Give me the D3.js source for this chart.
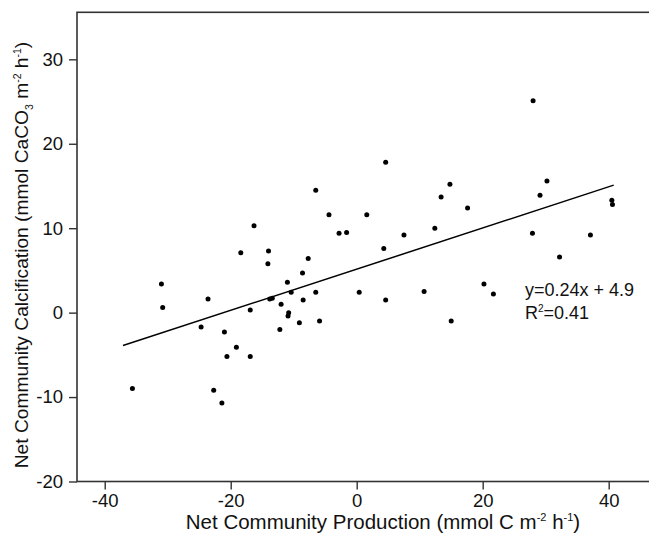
<!DOCTYPE html>
<html>
<head>
<meta charset="utf-8">
<script src="https://cdn.jsdelivr.net/npm/d3@7"></script>
<style>
  html, body { margin: 0; padding: 0; background: #fff; }
  svg { display: block; font-family: "Liberation Sans", Arial, Helvetica, sans-serif; }
</style>
</head>
<body>
<svg id="chart" width="649" height="535"></svg>
<script>
// ---- data ----
const ncp = [28.0, 4.6, -6.5, 14.8, 30.2, 13.4, 29.1, 40.5, 40.6, -4.4,
             1.6, 17.6, -2.8, -1.6, 7.5, 12.4, 27.9, 37.1, 4.3, 32.2,
             -7.7, -8.6, 20.2, 21.7, -8.5, -6.5, 0.4, 4.6, 10.7, -9.1,
             -5.9, 15.0, -16.3, -18.4, -14.0, -14.1, -31.0, -30.8, -23.6, -11.0,
             -10.4, -13.8, -13.4, -12.0, -16.9, -10.8, -10.9, -24.7, -21.0, -12.2,
             -19.1, -20.6, -16.9, -35.6, -22.7, -21.4];
const ncc = [25.1, 17.8, 14.5, 15.2, 15.6, 13.7, 13.9, 13.3, 12.8, 11.6,
             11.6, 12.4, 9.4, 9.5, 9.2, 10.0, 9.4, 9.2, 7.6, 6.6,
             6.4, 4.7, 3.4, 2.2, 1.5, 2.4, 2.4, 1.5, 2.5, -1.2,
             -1.0, -1.0, 10.3, 7.1, 7.3, 5.8, 3.4, 0.6, 1.6, 3.6,
             2.4, 1.6, 1.7, 1.0, 0.3, 0.0, -0.4, -1.7, -2.3, -2.0,
             -4.1, -5.2, -5.2, -9.0, -9.2, -10.7];
const fitX = [-37.1, 40.8];
const fitY = [-3.9, 15.1];
const xTicks = [-40, -20, 0, 20, 40];
const yTicks = [-20, -10, 0, 10, 20, 30];
const eqText = "y=0.24x + 4.9";
const r2Text = "=0.41";

// ---- layout ----
const svg = d3.select("#chart");
const pLeft = 77, pRight = 649, pTop = 12.3, pBottom = 481.5;

const x = d3.scaleLinear().domain([-44.4, 46.4]).range([pLeft, pRight]);
const y = d3.scaleLinear().domain([-20, 35.57]).range([pBottom, pTop]);

const axisColor = "#333";
const fontSize = 18.5;
const fmt = d => String(d);

// frame
svg.append("rect")
  .attr("x", pLeft).attr("y", pTop)
  .attr("width", pRight - pLeft + 20).attr("height", pBottom - pTop)
  .attr("fill", "none").attr("stroke", axisColor).attr("stroke-width", 1.6);

// x axis
const gx = svg.append("g").attr("transform", `translate(0,${pBottom})`)
  .call(d3.axisBottom(x).tickValues(xTicks).tickSize(8).tickSizeOuter(0).tickPadding(4)
    .tickFormat(fmt));
gx.select(".domain").remove();
gx.selectAll("line").attr("stroke", axisColor).attr("stroke-width", 1.4);
gx.selectAll("text").attr("fill", "#111").style("font-size", fontSize + "px")
  .style("font-family", "'Liberation Sans', Arial, sans-serif");

// y axis
const gy = svg.append("g").attr("transform", `translate(${pLeft},0)`)
  .call(d3.axisLeft(y).tickValues(yTicks).tickSize(8).tickSizeOuter(0).tickPadding(6)
    .tickFormat(fmt));
gy.select(".domain").remove();
gy.selectAll("line").attr("stroke", axisColor).attr("stroke-width", 1.4);
gy.selectAll("text").attr("fill", "#111").style("font-size", fontSize + "px")
  .style("font-family", "'Liberation Sans', Arial, sans-serif");

// regression line
svg.append("line")
  .attr("x1", x(fitX[0])).attr("y1", y(fitY[0]))
  .attr("x2", x(fitX[1])).attr("y2", y(fitY[1]))
  .attr("stroke", "#000").attr("stroke-width", 1.5);

// points
svg.append("g").selectAll("circle")
  .data(ncp.map((v, i) => [v, ncc[i]]))
  .join("circle")
  .attr("cx", d => x(d[0])).attr("cy", d => y(d[1]))
  .attr("r", 2.5).attr("fill", "#000");

// annotation
svg.append("text").attr("x", 525).attr("y", 296)
  .style("font-size", "18px").attr("fill", "#111").text(eqText);
const r2 = svg.append("text").attr("x", 525).attr("y", 318.5)
  .style("font-size", "18px").attr("fill", "#111");
r2.append("tspan").text("R");
r2.append("tspan").attr("dy", -7).style("font-size", "10px").text("2");
r2.append("tspan").attr("dy", 7).text(r2Text);

// x title
const xt = svg.append("text").attr("x", 383).attr("y", 529)
  .attr("text-anchor", "middle").style("font-size", "20.5px").attr("fill", "#111");
xt.append("tspan").text("Net Community Production (mmol C m");
xt.append("tspan").attr("dy", -8).style("font-size", "11px").text("-2");
xt.append("tspan").attr("dy", 8).text(" h");
xt.append("tspan").attr("dy", -8).style("font-size", "11px").text("-1");
xt.append("tspan").attr("dy", 8).text(")");

// y title
const yt = svg.append("text")
  .attr("transform", `translate(28,255) rotate(-90)`)
  .attr("text-anchor", "middle").style("font-size", "19.2px").attr("fill", "#111");
yt.append("tspan").text("Net Community Calcification (mmol CaCO");
yt.append("tspan").attr("dy", 5).style("font-size", "10.5px").text("3");
yt.append("tspan").attr("dy", -5).text(" m");
yt.append("tspan").attr("dy", -7).style("font-size", "10.5px").text("-2");
yt.append("tspan").attr("dy", 7).text(" h");
yt.append("tspan").attr("dy", -7).style("font-size", "10.5px").text("-1");
yt.append("tspan").attr("dy", 7).text(")");
</script>
</body>
</html>
